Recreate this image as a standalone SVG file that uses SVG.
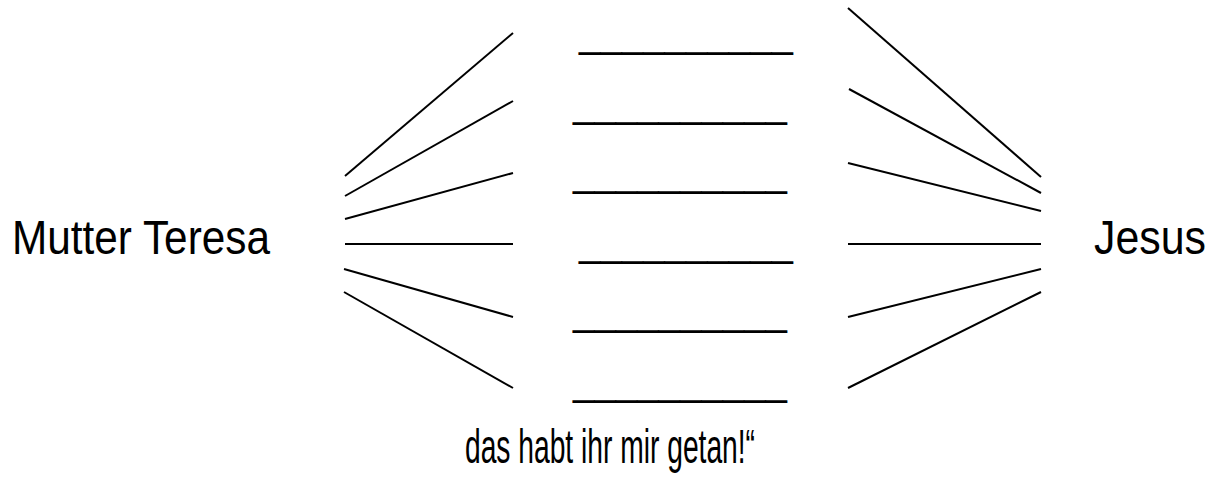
<svg xmlns="http://www.w3.org/2000/svg" width="1220" height="477" viewBox="0 0 1220 477">
<style>
.lbl{font-family:"Liberation Sans",Arial,sans-serif;fill:#000}
.blank{font-family:"Liberation Sans",Arial,sans-serif;font-size:42px;fill:#000}
.ln{stroke:#000;stroke-width:2;fill:none;stroke-linecap:butt}
</style>
<rect width="1220" height="477" fill="#fff"/>
<g id="mutter-teresa"><text class="lbl" x="12" y="254" font-size="48" textLength="258" lengthAdjust="spacingAndGlyphs">Mutter Teresa</text></g>
<g id="jesus"><text class="lbl" x="1094" y="254" font-size="48" textLength="112" lengthAdjust="spacingAndGlyphs">Jesus</text></g>
<g id="blanks">
<text class="blank" x="579" y="47" textLength="214" lengthAdjust="spacingAndGlyphs">__________</text>
<text class="blank" x="573" y="117" textLength="214" lengthAdjust="spacingAndGlyphs">__________</text>
<text class="blank" x="573" y="186" textLength="214" lengthAdjust="spacingAndGlyphs">__________</text>
<text class="blank" x="579" y="256" textLength="214" lengthAdjust="spacingAndGlyphs">__________</text>
<text class="blank" x="573" y="325" textLength="214" lengthAdjust="spacingAndGlyphs">__________</text>
<text class="blank" x="573" y="395" textLength="214" lengthAdjust="spacingAndGlyphs">__________</text>
</g>
<g id="caption"><text class="lbl" x="465" y="463" font-size="48" textLength="290" lengthAdjust="spacingAndGlyphs">das habt ihr mir getan!“</text></g>
<g id="connectors">
<line class="ln" x1="345" y1="176" x2="513" y2="33"/>
<line class="ln" x1="345" y1="196" x2="513" y2="101"/>
<line class="ln" x1="345" y1="219" x2="513" y2="173"/>
<line class="ln" x1="345" y1="244" x2="513" y2="244"/>
<line class="ln" x1="344" y1="269" x2="513" y2="317"/>
<line class="ln" x1="344" y1="292" x2="513" y2="388"/>
<line class="ln" x1="848" y1="8" x2="1041" y2="177"/>
<line class="ln" x1="849" y1="89" x2="1041" y2="193"/>
<line class="ln" x1="848" y1="163" x2="1041" y2="211"/>
<line class="ln" x1="848" y1="244" x2="1041" y2="244"/>
<line class="ln" x1="848" y1="317" x2="1041" y2="269"/>
<line class="ln" x1="848" y1="388" x2="1041" y2="292"/>
</g>
</svg>
